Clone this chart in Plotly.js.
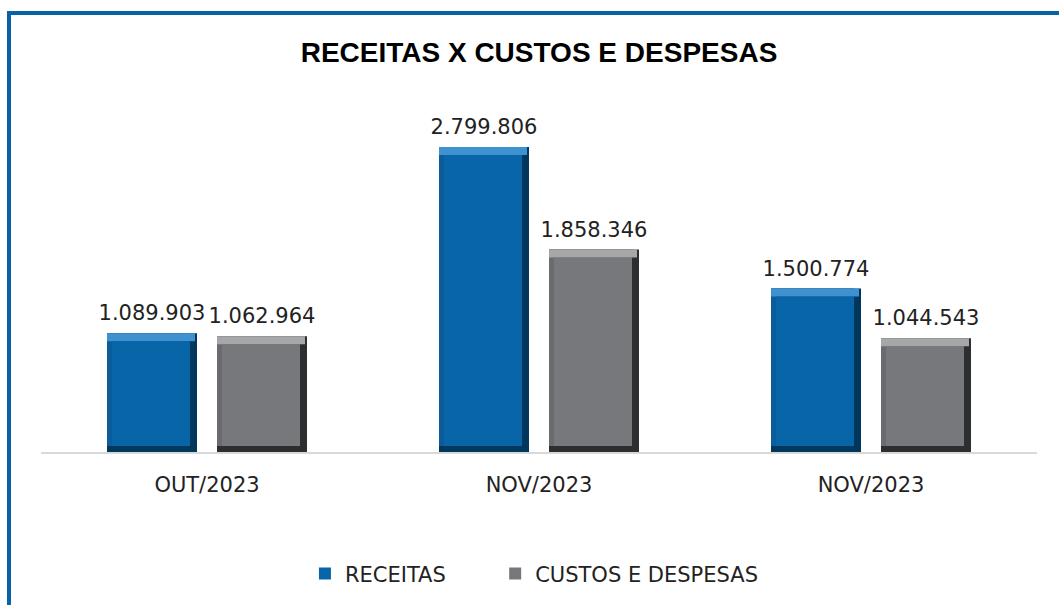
<!DOCTYPE html>
<html>
<head>
<meta charset="utf-8">
<script src="https://cdn.plot.ly/plotly-3.0.1.min.js"></script>
<style>
  html, body { margin: 0; padding: 0; background: #fff; overflow: hidden; }
  #frame { position: absolute; left: 7px; top: 11px; width: 1100px; height: 700px;
           border-left: 4px solid #0a62a6; border-top: 4px solid #0a62a6; box-sizing: border-box; }
  #chart { position: absolute; left: 0; top: 0; width: 1059px; height: 605px; }
</style>
</head>
<body>
<div id="frame"></div>
<div id="chart"></div>
<script>
// ---- data ----
const categories = ['OUT/2023', 'NOV/2023', 'NOV/2023'];
const receitas = [1089903, 2799806, 1500774];
const custos = [1062964, 1858346, 1044543];
const seriesNames = ['RECEITAS', 'CUSTOS E DESPESAS'];
const positions = categories.map((c, i) => i);

// ---- style ----
const FONT = 'DejaVu Sans, sans-serif';
const W = 1059, H = 605;
const M = { l: 41, r: 22, t: 100, b: 152 };
const Y_MAX = 3231000;
const plotW = W - M.l - M.r, plotH = H - M.t - M.b;
const ux = categories.length / plotW;   // x units per pixel
const uy = Y_MAX / plotH;               // y units per pixel
const BAR_PX = 90, SLOT_PX = 110;
const barW = BAR_PX * ux;
const offsets = [(-SLOT_PX / 2 - BAR_PX / 2) * ux, (SLOT_PX / 2 - BAR_PX / 2) * ux];
const bev = { left: 5, right: 7, top: 8, bottom: 6 };
const LABEL_PAD = 5;

const palette = [
  { face: '#0765a8', dark: '#02375d', mid: '#0b5c98', light: '#3d92cf' },
  { face: '#77787b', dark: '#2d2e30', mid: '#6a6b6e', light: '#a6a7a9' }
];

const traces = [];
[receitas, custos].forEach((vals, s) => {
  const c = palette[s];
  const legendId = s === 0 ? 'legend' : 'legend2';
  // outer (dark right/bottom bevel)
  traces.push({
    type: 'bar', x: positions, y: vals, offset: offsets[s], width: barW,
    marker: { color: c.dark, line: { width: 0 } }, showlegend: false, hoverinfo: 'skip'
  });
  // left bevel (mid tone)
  traces.push({
    type: 'bar', x: positions, y: vals.map(v => v - bev.bottom * uy),
    base: vals.map(() => bev.bottom * uy),
    offset: offsets[s], width: barW - bev.right * ux,
    marker: { color: c.mid, line: { width: 0 } }, showlegend: false, hoverinfo: 'skip'
  });
  // top highlight band
  traces.push({
    type: 'bar', x: positions, y: vals.map(() => bev.top * uy),
    base: vals.map(v => v - bev.top * uy),
    offset: offsets[s], width: barW - 2 * ux,
    marker: { color: c.light, line: { width: 0 } }, showlegend: false, hoverinfo: 'skip'
  });
  // inner face
  traces.push({
    type: 'bar', name: seriesNames[s], legend: legendId, x: positions,
    y: vals.map(v => v - (bev.top + bev.bottom) * uy),
    base: vals.map(() => bev.bottom * uy),
    offset: offsets[s] + bev.left * ux, width: barW - (bev.left + bev.right) * ux,
    marker: { color: c.face, line: { width: 0 } }, showlegend: true, hoverinfo: 'skip'
  });
  // value labels (transparent carrier bar lifted by LABEL_PAD px)
  traces.push({
    type: 'bar', x: positions, y: vals, base: vals.map(() => LABEL_PAD * uy),
    offset: offsets[s], width: barW,
    marker: { color: 'rgba(0,0,0,0)', line: { width: 0 } }, showlegend: false, hoverinfo: 'skip',
    texttemplate: '%{y:,.0f}', textposition: 'outside', cliponaxis: false, constraintext: 'none',
    textfont: { family: FONT, size: 21, color: '#222' }
  });
});

const legendBase = {
  orientation: 'h', y: -0.342, yanchor: 'middle', xanchor: 'left',
  font: { family: FONT, size: 21, color: '#222' }, bgcolor: 'rgba(0,0,0,0)'
};

const layout = {
  width: W, height: H,
  paper_bgcolor: 'rgba(0,0,0,0)', plot_bgcolor: 'rgba(0,0,0,0)',
  separators: ',.',
  margin: M,
  title: {
    text: '<b>RECEITAS X CUSTOS E DESPESAS</b>',
    font: { family: 'Liberation Sans, Arial, sans-serif', size: 28, color: '#000' },
    x: 0.5, xref: 'paper', xanchor: 'center', y: 0.914, yanchor: 'middle'
  },
  barmode: 'overlay',
  xaxis: {
    range: [-0.5, 2.5], tickvals: positions, ticktext: categories,
    showline: true, linecolor: '#d9d9d9', linewidth: 1.5,
    showgrid: false, zeroline: false, ticks: '',
    tickfont: { family: FONT, size: 21, color: '#222' }, ticklabelstandoff: 13
  },
  yaxis: { range: [0, Y_MAX], visible: false, showgrid: false, zeroline: false },
  showlegend: true,
  legend: Object.assign({}, legendBase, { x: 0.265 }),
  legend2: Object.assign({}, legendBase, { x: 0.456 })
};

Plotly.newPlot('chart', traces, layout, { displayModeBar: false, staticPlot: true });
</script>
</body>
</html>
